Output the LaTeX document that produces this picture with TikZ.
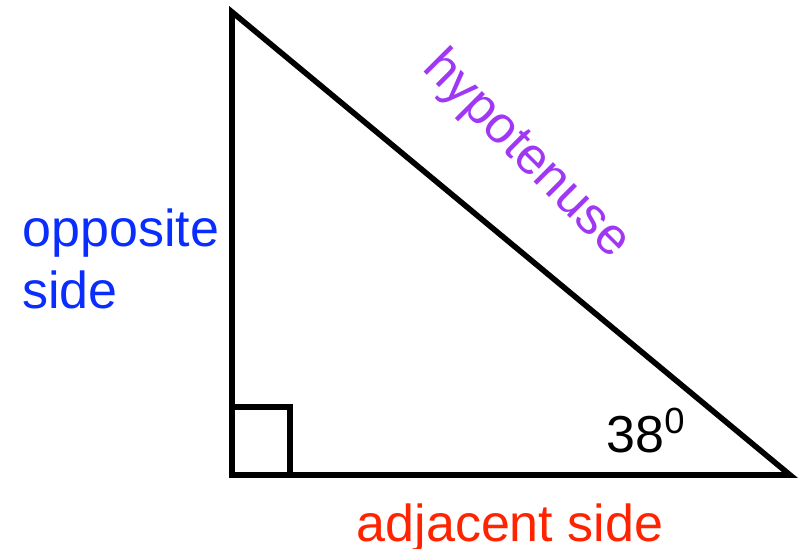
\documentclass[tikz,border=0pt]{standalone}
\usepackage{fontspec}
\setmainfont{Liberation Sans}
\definecolor{oppblue}{RGB}{10,45,255}
\definecolor{hyppurple}{RGB}{160,55,245}
\definecolor{adjred}{RGB}{255,35,0}
\begin{document}
\begin{tikzpicture}[x=0.5pt,y=-0.5pt]
    \tikzset{
        side/.style={line width=2.8pt},
        lbl/.style={inner sep=0pt,font=\fontsize{26}{31}\selectfont}
    }
    \useasboundingbox (0,0) rectangle (802,549);

    % Define the corners of the triangle
    \coordinate (T) at (232,12);
    \coordinate (R) at (232,475);
    \coordinate (E) at (790,475);

    % Draw the triangle
    \draw[side,line join=miter] (T) -- (R) -- (E) -- cycle;

    % Right angle mark
    \draw[side] (232,407) -| (290,475);

    % Labels of the sides
    \node[lbl,text=oppblue,align=left,anchor=base west] (opp) at (22,309) {opposite\\side};
    \node[lbl,text=hyppurple,rotate=-45] (hyp) at (526,155) {hypotenuse};
    \node[lbl,text=adjred,anchor=base] (adj) at (510,541) {adjacent side};

    % Angle label
    \node[lbl,anchor=base west] (ang) at (606,452) {38\textsuperscript{0}};
\end{tikzpicture}
\end{document}
